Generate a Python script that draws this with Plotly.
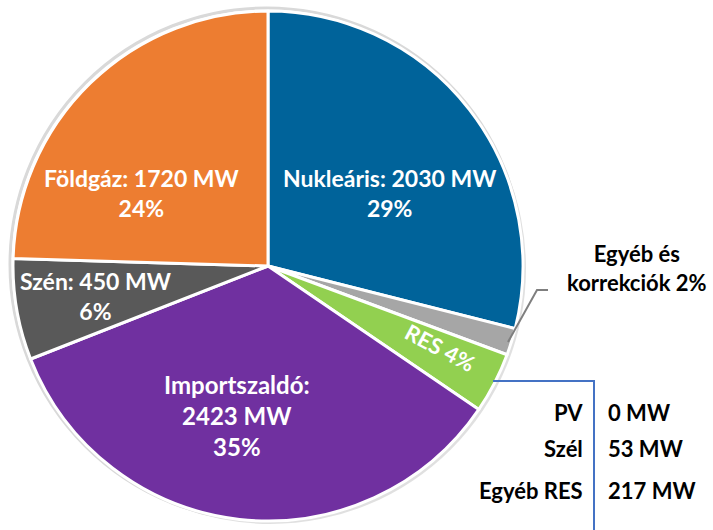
import plotly.graph_objects as go

W, H = 713, 530

labels = ["Nukleáris", "Egyéb és korrekciók", "RES", "Importszaldó", "Szén", "Földgáz"]
values_mw = [2030, 120, 270, 2423, 450, 1720]
colors = ["#00639A", "#A6A6A6", "#92D050", "#7030A0", "#595959", "#ED7D31"]
pct_labels = ["29%", "2%", "4%", "35%", "6%", "24%"]

res_parts = ["PV", "Szél", "Egyéb RES"]
res_values = ["0 MW", "53 MW", "217 MW"]

cx, cy, r = 268, 266, 255

def px(x):
    return x / W

def py(y):
    return 1 - y / H

fig = go.Figure()
fig.add_trace(go.Pie(
    labels=labels,
    values=values_mw,
    sort=False,
    direction="clockwise",
    rotation=0,
    marker=dict(colors=colors, line=dict(color="white", width=3)),
    textinfo="none",
    hoverinfo="label+value+percent",
    showlegend=False,
    domain=dict(x=[px(cx - r), px(cx + r)], y=[py(cy + r), py(cy - r)]),
))

font = "Lato, 'Open Sans', sans-serif"
ann = []

def add(text, x, y, color="white", size=23, angle=0, align="center", xanchor="center"):
    ann.append(dict(text=text, x=px(x), y=py(y), xref="paper", yref="paper",
                    showarrow=False, align=align, xanchor=xanchor, yanchor="middle",
                    textangle=angle,
                    font=dict(family=font, size=size, color=color, weight="bold")))

add(f"{labels[0]}: {values_mw[0]} MW<br>{pct_labels[0]}", 389, 193)
add(f"{labels[5]}: {values_mw[5]} MW<br>{pct_labels[5]}", 141, 193)
add(f"{labels[4]}: {values_mw[4]} MW<br>{pct_labels[4]}", 95, 296)
add(f"{labels[3]}:<br>{values_mw[3]} MW<br>{pct_labels[3]}", 237, 415, size=24)
add(f"{labels[2]} {pct_labels[2]}", 440, 347, angle=28, size=22)
add("Egyéb és<br>korrekciók " + pct_labels[1], 637, 268, color="black", size=22)

for name, val, yy in zip(res_parts, res_values, [412, 448, 490]):
    add(name, 585, yy, color="black", size=22, xanchor="right")
    add(val, 606, yy, color="black", size=22, xanchor="left")

shapes = [
    dict(type="circle", xref="paper", yref="paper", layer="below",
         x0=px(cx - r + 2), x1=px(cx + r + 3), y0=py(cy + r + 3), y1=py(cy - r + 2),
         fillcolor="rgba(0,0,0,0.12)", line=dict(width=0)),
    dict(type="circle", xref="paper", yref="paper", layer="below",
         x0=px(cx - r - 3), x1=px(cx + r), y0=py(cy + r), y1=py(cy - r - 3),
         fillcolor="rgba(0,0,0,0)", line=dict(color="#D9D9D9", width=3)),
    dict(type="path", xref="paper", yref="paper",
         path=f"M {px(508)} {py(342)} L {px(537)} {py(290)} L {px(548)} {py(290)}",
         line=dict(color="#7F7F7F", width=2)),
    dict(type="path", xref="paper", yref="paper",
         path=f"M {px(493)} {py(381)} L {px(594)} {py(381)} L {px(594)} {py(530)}",
         line=dict(color="#4472C4", width=2)),
]

fig.update_layout(
    width=W, height=H,
    margin=dict(l=0, r=0, t=0, b=0),
    paper_bgcolor="white", plot_bgcolor="white",
    annotations=ann, shapes=shapes,
)

fig.write_html("out.html", config={"displayModeBar": False},
               post_script="document.body.style.margin='0';")
